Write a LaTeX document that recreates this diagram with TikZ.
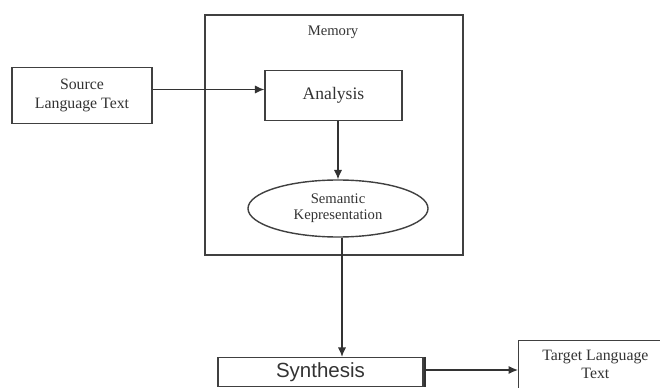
\documentclass[tikz,border=0pt]{standalone}
\usepackage{fontspec}
\setmainfont{Liberation Serif}
\newfontfamily\synfont{Liberation Sans}
\usepackage{tikz}
\usetikzlibrary{arrows.meta,positioning,calc,shapes.geometric}

\tikzset{
  box/.style={draw=black!75,line width=1.2pt,rectangle,align=center,text=black!80,inner sep=2pt},
  arr/.style={draw=black!80,line width=1.1pt,-{Latex[length=8pt,width=7pt]}}
}

\begin{document}
\begin{tikzpicture}[x=0.03cm,y=-0.03cm]
\useasboundingbox (0,0) rectangle (660,388);
% memory block
\node[box,minimum width=7.74cm,minimum height=7.2cm] (mem) at (334,135) {};
\node[text=black!80,font=\fontsize{12.5}{14}\selectfont] (memtxt) at (333,32) {Memory};
% inputs and stages
\node[box,minimum width=4.2cm,minimum height=1.68cm,font=\fontsize{13.5}{15.5}\selectfont] (src) at (82,95.5) {Source\\Language Text};
\node[box,minimum width=4.11cm,minimum height=1.5cm,font=\fontsize{15}{18}\selectfont] (ana) at (333.5,95.7) {Analysis};
\node[ellipse,draw=black!75,line width=1.2pt,align=center,text=black!80,inner sep=0pt,
  minimum width=5.4cm,minimum height=1.71cm,font=\fontsize{12.5}{14}\selectfont] (sem) at (338,208.5) {Semantic\\Kepresentation};
\node[box,minimum width=6.15cm,minimum height=0.87cm,font=\synfont\fontsize{17.5}{19}\selectfont] (syn) at (320.5,372) {Synthesis};
\draw[black!80,line width=1.8pt] ([xshift=1pt]syn.north east) -- ([xshift=1pt]syn.south east);
\node[box,anchor=north west,minimum width=4.6cm,inner ysep=8pt,text depth=1.4cm,
  font=\fontsize{13.5}{15}\selectfont] (tgt) at (518,340) {Target Language\\Text};
% flow
\draw[arr] ([yshift=0.18cm]src.east) -- ([yshift=0.18cm]src.east -| ana.west);
\draw[arr] (ana.south -| sem.north) -- (sem.north);
\draw[arr] ([xshift=0.12cm]sem.south) -- ([xshift=0.12cm]sem.south |- syn.north);
\draw[arr] ([yshift=0.06cm]syn.east) -- ([yshift=0.06cm]syn.east -| tgt.west);
\end{tikzpicture}
\end{document}
